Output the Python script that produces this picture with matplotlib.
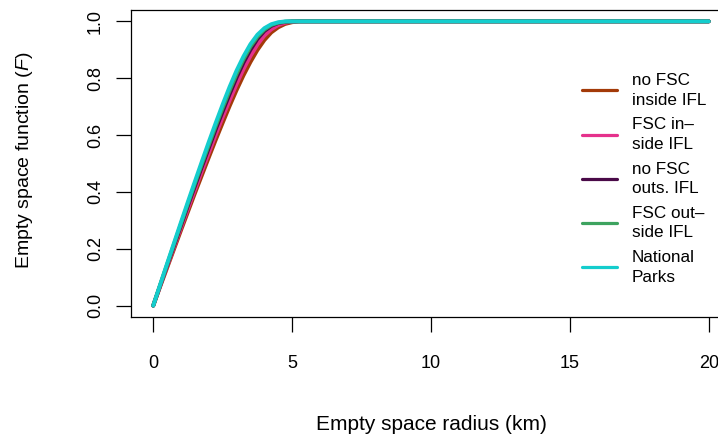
import matplotlib
matplotlib.use("Agg")
import matplotlib.pyplot as plt

plt.rcParams['font.family'] = ['Liberation Sans', 'DejaVu Sans']
plt.rcParams['mathtext.fontset'] = 'custom'
plt.rcParams['mathtext.it'] = 'Liberation Sans:italic'
plt.rcParams['mathtext.rm'] = 'Liberation Sans'

# radius (km)
radius = [0, 0.25, 0.5, 0.75, 1.0, 1.25, 1.5, 1.75, 2.0, 2.25, 2.5, 2.75, 3.0,
          3.25, 3.5, 3.75, 4.0, 4.25, 4.5, 4.75, 5.0, 5.25, 5.5, 20]

no_fsc_inside = [0, 0.067, 0.133, 0.199, 0.265, 0.330, 0.395, 0.458, 0.521, 0.583,
                 0.643, 0.702, 0.758, 0.810, 0.857, 0.899, 0.934, 0.961, 0.979,
                 0.991, 0.997, 1.0, 1.0, 1.0]
fsc_inside = [0, 0.069, 0.138, 0.206, 0.274, 0.341, 0.407, 0.473, 0.537, 0.601,
              0.663, 0.722, 0.779, 0.832, 0.878, 0.918, 0.950, 0.972, 0.987,
              0.995, 0.999, 1.0, 1.0, 1.0]
no_fsc_outside = [0, 0.071, 0.142, 0.212, 0.282, 0.352, 0.420, 0.488, 0.554, 0.620,
                  0.683, 0.744, 0.802, 0.855, 0.900, 0.938, 0.966, 0.984, 0.994,
                  0.998, 1.0, 1.0, 1.0, 1.0]
fsc_outside = [0, 0.073, 0.145, 0.217, 0.288, 0.359, 0.429, 0.498, 0.565, 0.632,
               0.696, 0.757, 0.815, 0.867, 0.911, 0.946, 0.971, 0.987, 0.995,
               0.999, 1.0, 1.0, 1.0, 1.0]
national_parks = [0, 0.074, 0.148, 0.221, 0.294, 0.366, 0.437, 0.507, 0.576, 0.643,
                  0.708, 0.770, 0.827, 0.877, 0.920, 0.953, 0.976, 0.990, 0.997,
                  1.0, 1.0, 1.0, 1.0, 1.0]

labels = ["no FSC\ninside IFL", "FSC in\u2013\nside IFL", "no FSC\nouts. IFL",
          "FSC out\u2013\nside IFL", "National\nParks"]
colors = ["#A33A08", "#E5318C", "#4A0A48", "#3DA35F", "#14CDCD"]
series = [no_fsc_inside, fsc_inside, no_fsc_outside, fsc_outside, national_parks]

xticks = [0, 5, 10, 15, 20]
yticks = [0.0, 0.2, 0.4, 0.6, 0.8, 1.0]

W, H = 718, 442
fig = plt.figure(figsize=(W / 100, H / 100), dpi=100)
left, right, top, bottom = 131, 731, 10, 317
ax = fig.add_axes([left / W, 1 - bottom / H, (right - left) / W, (bottom - top) / H])

for vals, c, lab in zip(series, colors, labels):
    ax.plot(radius, vals, color=c, lw=2.8, solid_capstyle='round', label=lab)

ax.set_xlim(-0.8, 20.8)
ax.set_ylim(-0.04, 1.04)
ax.set_xticks(xticks)
ax.set_xticklabels([str(t) for t in xticks])
ax.set_yticks(yticks)
ax.set_yticklabels([f"{t:.1f}" for t in yticks], rotation=90, va='center')
ax.tick_params(axis='x', direction='out', length=10.5, width=0.9, pad=17, labelsize=13)
ax.tick_params(axis='y', direction='out', length=10.5, width=0.9, pad=9, labelsize=13)
for s in ax.spines.values():
    s.set_linewidth(0.9)

ax.set_xlabel("Empty space radius (km)", fontsize=15)
ax.xaxis.set_label_coords(0.5, -(425 - bottom) / (bottom - top), transform=ax.transAxes)
ax.xaxis.label.set_va('center')
ax.set_ylabel(r"Empty space function ($\mathit{F}$)", fontsize=14)
ax.yaxis.set_label_coords((25 - left) / (right - left), (bottom - 160) / (bottom - top))
ax.yaxis.label.set_va('center')

leg = ax.legend(loc='upper left', bbox_to_anchor=(582 / W, 1 - 73 / H),
                bbox_transform=fig.transFigure, frameon=False, fontsize=12.3,
                handlelength=2.05, handletextpad=0.85, labelspacing=0.57,
                borderpad=0, borderaxespad=0)
for t in leg.get_texts():
    t.set_linespacing(1.38)
for l in leg.get_lines():
    l.set_linewidth(2.3)

fig.savefig("out.png", dpi=100)
